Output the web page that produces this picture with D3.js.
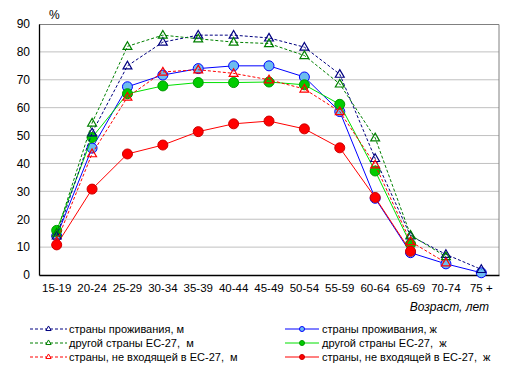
<!DOCTYPE html>
<html>
<head>
<meta charset="utf-8">
<script src="https://cdn.jsdelivr.net/npm/d3@7"></script>
<style>
  body { margin: 0; background: #fff; }
  text { font-family: Arial, "Liberation Sans", sans-serif; white-space: pre; }
</style>
</head>
<body>
<div id="chart"></div>
<script>
// age groups
const ages = ["15-19", "20-24", "25-29", "30-34", "35-39", "40-44", "45-49", "50-54", "55-59", "60-64", "65-69", "70-74", "75 +"];
const yTicks = [0, 10, 20, 30, 40, 50, 60, 70, 80, 90];

// employment rates, %, by country of birth and sex
const homeM    = [14, 51, 75, 83.5, 86, 86, 85, 81.7, 72, 41.8, 14, 7.4, 2];
const euM      = [15, 54.5, 82, 86, 84.7, 83.5, 83, 78.7, 68.5, 49.2, 14.3, 6.6, null];
const nonEuM   = [12, 43.5, 63.8, 72.8, 73.6, 72.3, 70, 66.7, 58.6, 39.5, 12, 4.4, null];
const homeF    = [14, 45.5, 67.5, 71.7, 74, 75, 75, 71, 58.6, 27.5, 8, 4, 0.8];
const euF      = [16, 49.3, 65, 67.8, 69, 69, 69.2, 68.2, 61.2, 37.3, 11.1, null, null];
const nonEuF   = [10.8, 30.8, 43.4, 46.6, 51.4, 54.2, 55.2, 52.4, 45.6, 27.8, 8.5, null, null];

const series = [
  {name: "страны проживания, м", values: homeM, color: "#000080", dash: "3,2", marker: "tri", fill: "none"},
  {name: "другой страны ЕС-27,  м", values: euM, color: "#008000", dash: "3,2", marker: "tri", fill: "none"},
  {name: "страны, не входящей в ЕС-27,  м", values: nonEuM, color: "#ff0000", dash: "3,2", marker: "tri", fill: "none"},
  {name: "страны проживания, ж", values: homeF, color: "#0000ff", dash: null, marker: "circle", fill: "#6cbcf0"},
  {name: "другой страны ЕС-27,  ж", values: euF, color: "#00e000", dash: null, marker: "circle", fill: "#00cc00", stroke: "#009900"},
  {name: "страны, не входящей в ЕС-27,  ж", values: nonEuF, color: "#ff0000", dash: null, marker: "circle", fill: "#ff0000", stroke: "#cc0000"}
];

const width = 515, height = 371;
const margin = {top: 24, right: 16, bottom: 96, left: 39};
const iw = width - margin.left - margin.right;
const ih = height - margin.top - margin.bottom;

const svg = d3.select("#chart").append("svg")
  .attr("width", width)
  .attr("height", height);

const g = svg.append("g").attr("transform", `translate(${margin.left},${margin.top})`);

const x = d3.scaleBand().domain(ages).range([0, iw]);
const y = d3.scaleLinear().domain([0, 90]).range([ih, 0]);
const cx = d => x(d) + x.bandwidth() / 2;

// gridlines
g.append("g")
  .selectAll("line")
  .data(yTicks.filter(t => t > 0 && t < 90))
  .join("line")
  .attr("x1", 0).attr("x2", iw)
  .attr("y1", d => y(d)).attr("y2", d => y(d))
  .attr("stroke", "#c0c0c0");

// frame (top/right gray)
g.append("path")
  .attr("d", `M0,0.5H${iw}V${ih}`)
  .attr("fill", "none")
  .attr("stroke", "#808080");

// y axis
const yAxis = g.append("g")
  .call(d3.axisLeft(y).tickValues(yTicks).tickSize(0).tickPadding(9));
yAxis.select(".domain").attr("stroke", "#000").attr("stroke-width", 1.3);
yAxis.selectAll("text").attr("font-size", 12).attr("fill", "#000").attr("font-family", "Arial, 'Liberation Sans', sans-serif");

// x axis
const xAxis = g.append("g")
  .attr("transform", `translate(0,${ih})`)
  .call(d3.axisBottom(x).tickSize(0).tickPadding(9));
xAxis.select(".domain").attr("stroke", "#000").attr("stroke-width", 1.3);
xAxis.selectAll("text").attr("font-size", 11.5).attr("fill", "#000").attr("font-family", "Arial, 'Liberation Sans', sans-serif");

svg.append("text")
  .attr("x", 49).attr("y", 19)
  .attr("font-size", 12)
  .text("%");

svg.append("text")
  .attr("x", 489).attr("y", 311)
  .attr("text-anchor", "end")
  .attr("font-size", 12)
  .attr("font-style", "italic")
  .text("Возраст, лет");

const tri = d3.symbol().type(d3.symbolTriangle);

const line = d3.line()
  .defined(d => d != null)
  .x((d, i) => cx(ages[i]))
  .y(d => y(d));

// solid lines drawn first, dashed on top like the original
const order = [3, 4, 5, 0, 1, 2];
order.forEach(k => {
  const s = series[k];
  const sg = g.append("g");
  sg.append("path")
    .datum(s.values)
    .attr("d", line)
    .attr("fill", "none")
    .attr("stroke", s.color)
    .attr("stroke-width", 1)
    .attr("stroke-dasharray", s.dash);
  const pts = s.values.map((v, i) => ({v, a: ages[i]})).filter(d => d.v != null);
  if (s.marker === "circle") {
    sg.selectAll("circle").data(pts).join("circle")
      .attr("cx", d => cx(d.a)).attr("cy", d => y(d.v))
      .attr("r", 5)
      .attr("fill", s.fill)
      .attr("stroke", s.stroke || s.color)
      .attr("stroke-width", 1);
  } else {
    sg.selectAll("path.m").data(pts).join("path")
      .attr("class", "m")
      .attr("d", tri.size(34))
      .attr("transform", d => `translate(${cx(d.a)},${y(d.v) + 0.5})`)
      .attr("fill", "#fff")
      .attr("fill-opacity", 0)
      .attr("stroke", s.color)
      .attr("stroke-width", 1.2);
  }
});

// legend
const legend = svg.append("g");
series.forEach((s, i) => {
  const col = i < 3 ? 0 : 1;
  const row = i % 3;
  const lx = col === 0 ? 30 : 285;
  const lw = col === 0 ? 37 : 34;
  const ly = 329 + row * 14;
  const item = legend.append("g");
  item.append("line")
    .attr("x1", lx).attr("x2", lx + lw)
    .attr("y1", ly).attr("y2", ly)
    .attr("stroke", s.color)
    .attr("stroke-dasharray", s.dash);
  if (s.marker === "circle") {
    item.append("circle")
      .attr("cx", lx + lw / 2).attr("cy", ly)
      .attr("r", 2.5)
      .attr("fill", s.fill)
      .attr("stroke", s.stroke || s.color);
  } else {
    item.append("path")
      .attr("d", tri.size(12))
      .attr("transform", `translate(${lx + lw / 2},${ly})`)
      .attr("fill", "#fff")
      .attr("stroke", s.color);
  }
  item.append("text")
    .attr("x", col === 0 ? 69 : 322)
    .attr("y", ly + 4)
    .attr("font-size", 11)
    .text(s.name);
});
</script>
</body>
</html>
